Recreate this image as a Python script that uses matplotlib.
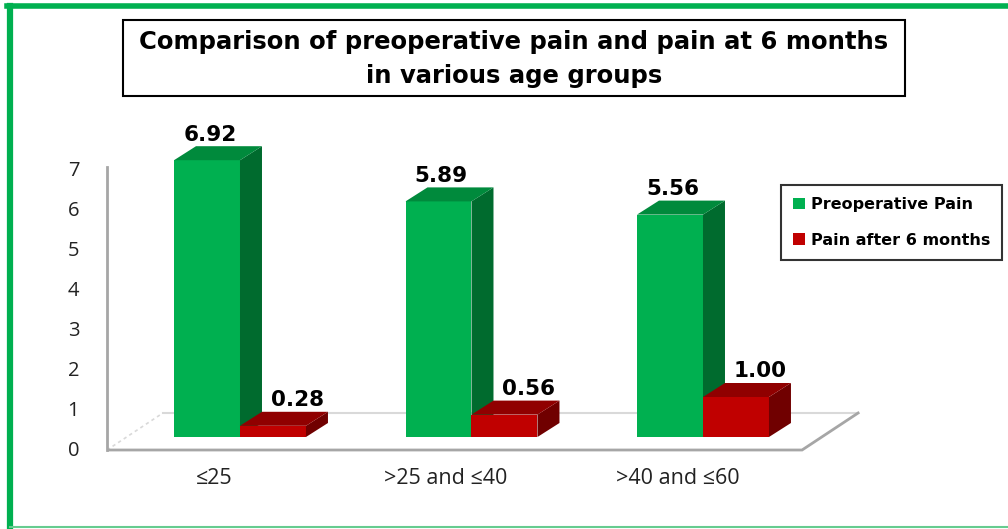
import matplotlib.pyplot as plt
import numpy as np
from matplotlib.patches import Polygon, Rectangle
from matplotlib.lines import Line2D

# data
age_groups = ["≤25", ">25 and ≤40", ">40 and ≤60"]
preop_pain = [6.92, 5.89, 5.56]
pain_6m = [0.28, 0.56, 1.00]
y_ticks = [0, 1, 2, 3, 4, 5, 6, 7]

W, H = 1008, 529
fig = plt.figure(figsize=(W / 100, H / 100), dpi=100)

# axes placed in pixel terms: left 107, right 870, top 130, bottom 460
ax = fig.add_axes([107 / W, 1 - 460 / H, (870 - 107) / W, (460 - 130) / H])
ax.set_xlim(-0.5745, 2.7214)
ax.set_ylim(-0.575, 7.675)

bw = 0.285      # bar width
dx, dy = 0.095, 0.35   # 3d depth offset
fy = -0.325     # front floor level
by = 0.6        # back floor level

green = ("#00b050", "#008a3c", "#006b2e")  # front, top, side
red = ("#c00000", "#900000", "#700000")


def bar3d(x0, h, cols):
    f, t, s = cols
    ax.add_patch(Rectangle((x0, 0), bw, h, facecolor=f, edgecolor="none", zorder=3))
    ax.add_patch(Polygon([(x0 + bw, 0), (x0 + bw + dx, dy), (x0 + bw + dx, h + dy), (x0 + bw, h)],
                         closed=True, facecolor=s, edgecolor="none", zorder=3))
    ax.add_patch(Polygon([(x0, h), (x0 + dx, h + dy), (x0 + bw + dx, h + dy), (x0 + bw, h)],
                         closed=True, facecolor=t, edgecolor="none", zorder=3))


# floor
ax.plot([-0.333, 2.67], [by, by], color="#d9d9d9", lw=1.5, zorder=1)
ax.plot([-0.5745, -0.333], [fy, by], color="#d9d9d9", lw=1.2, ls=(0, (2, 2)), zorder=1)
ax.plot([-0.5745, 2.428, 2.67], [fy, fy, by], color="#a6a6a6", lw=2, zorder=1,
        solid_joinstyle="miter")

x = np.arange(len(age_groups))
for i in x:
    bar3d(i - bw, preop_pain[i], green)
    bar3d(i, pain_6m[i], red)
    ax.text(i - bw / 2 + 0.012, preop_pain[i] + dy + 0.04, f"{preop_pain[i]:.2f}",
            ha="center", va="bottom", fontsize=15.5, fontweight="bold", color="black")
    ax.text(i + bw / 2 + 0.105, pain_6m[i] + dy + 0.04, f"{pain_6m[i]:.2f}",
            ha="center", va="bottom", fontsize=15.5, fontweight="bold", color="black")

for s in ["top", "right", "bottom"]:
    ax.spines[s].set_visible(False)
ax.spines["left"].set_color("#a6a6a6")
ax.spines["left"].set_linewidth(2)
ax.spines["left"].set_bounds(fy, 6.75)
ax.set_yticks(np.array(y_ticks) + fy + 0.025)
ax.set_yticklabels([str(v) for v in y_ticks], fontsize=14.5, family="Open Sans", color="#222222")
ax.set_xticks(x - 0.11)
ax.set_xticklabels(age_groups, fontsize=15.5, family="Open Sans", color="#222222")
ax.tick_params(axis="y", length=0, pad=20)
ax.tick_params(axis="x", length=0, pad=6)
ax.patch.set_alpha(0)

# legend
h1 = Rectangle((0, 0), 1, 1, facecolor=green[0])
h2 = Rectangle((0, 0), 1, 1, facecolor=red[0])
leg = fig.legend([h1, h2], ["Preoperative Pain", "Pain after 6 months"],
                 loc="upper left", bbox_to_anchor=(781 / W, 1 - 185 / H),
                 prop={"size": 11.5, "weight": "bold"}, frameon=True, fancybox=False,
                 handlelength=0.75, handleheight=0.75, handletextpad=0.35,
                 labelspacing=1.3, borderpad=0.75, borderaxespad=0)
leg.get_frame().set_edgecolor("black")
leg.get_frame().set_linewidth(1.5)

# title box
fig.patches.append(Rectangle((123 / W, 1 - 96 / H), (905 - 123) / W, 76 / H,
                             transform=fig.transFigure, facecolor="white",
                             edgecolor="black", lw=1.5))
fig.text(514 / W, 1 - 59 / H,
         "Comparison of preoperative pain and pain at 6 months\nin various age groups",
         ha="center", va="center", fontsize=17.5, fontweight="bold", linespacing=1.55)

# green frame: thick top and left, thin pale bottom
fig.add_artist(Line2D([7 / W, 1], [1 - 6 / H, 1 - 6 / H], transform=fig.transFigure,
                      color="#00b050", lw=4, solid_capstyle="projecting"))
fig.add_artist(Line2D([10 / W, 10 / W], [1 - 6 / H, 1 - 527 / H], transform=fig.transFigure,
                      color="#00b050", lw=4.5))
fig.add_artist(Line2D([10 / W, 1], [1 - 527 / H, 1 - 527 / H], transform=fig.transFigure,
                      color="#66cc8f", lw=1.5))

fig.savefig("out.png", dpi=100)
